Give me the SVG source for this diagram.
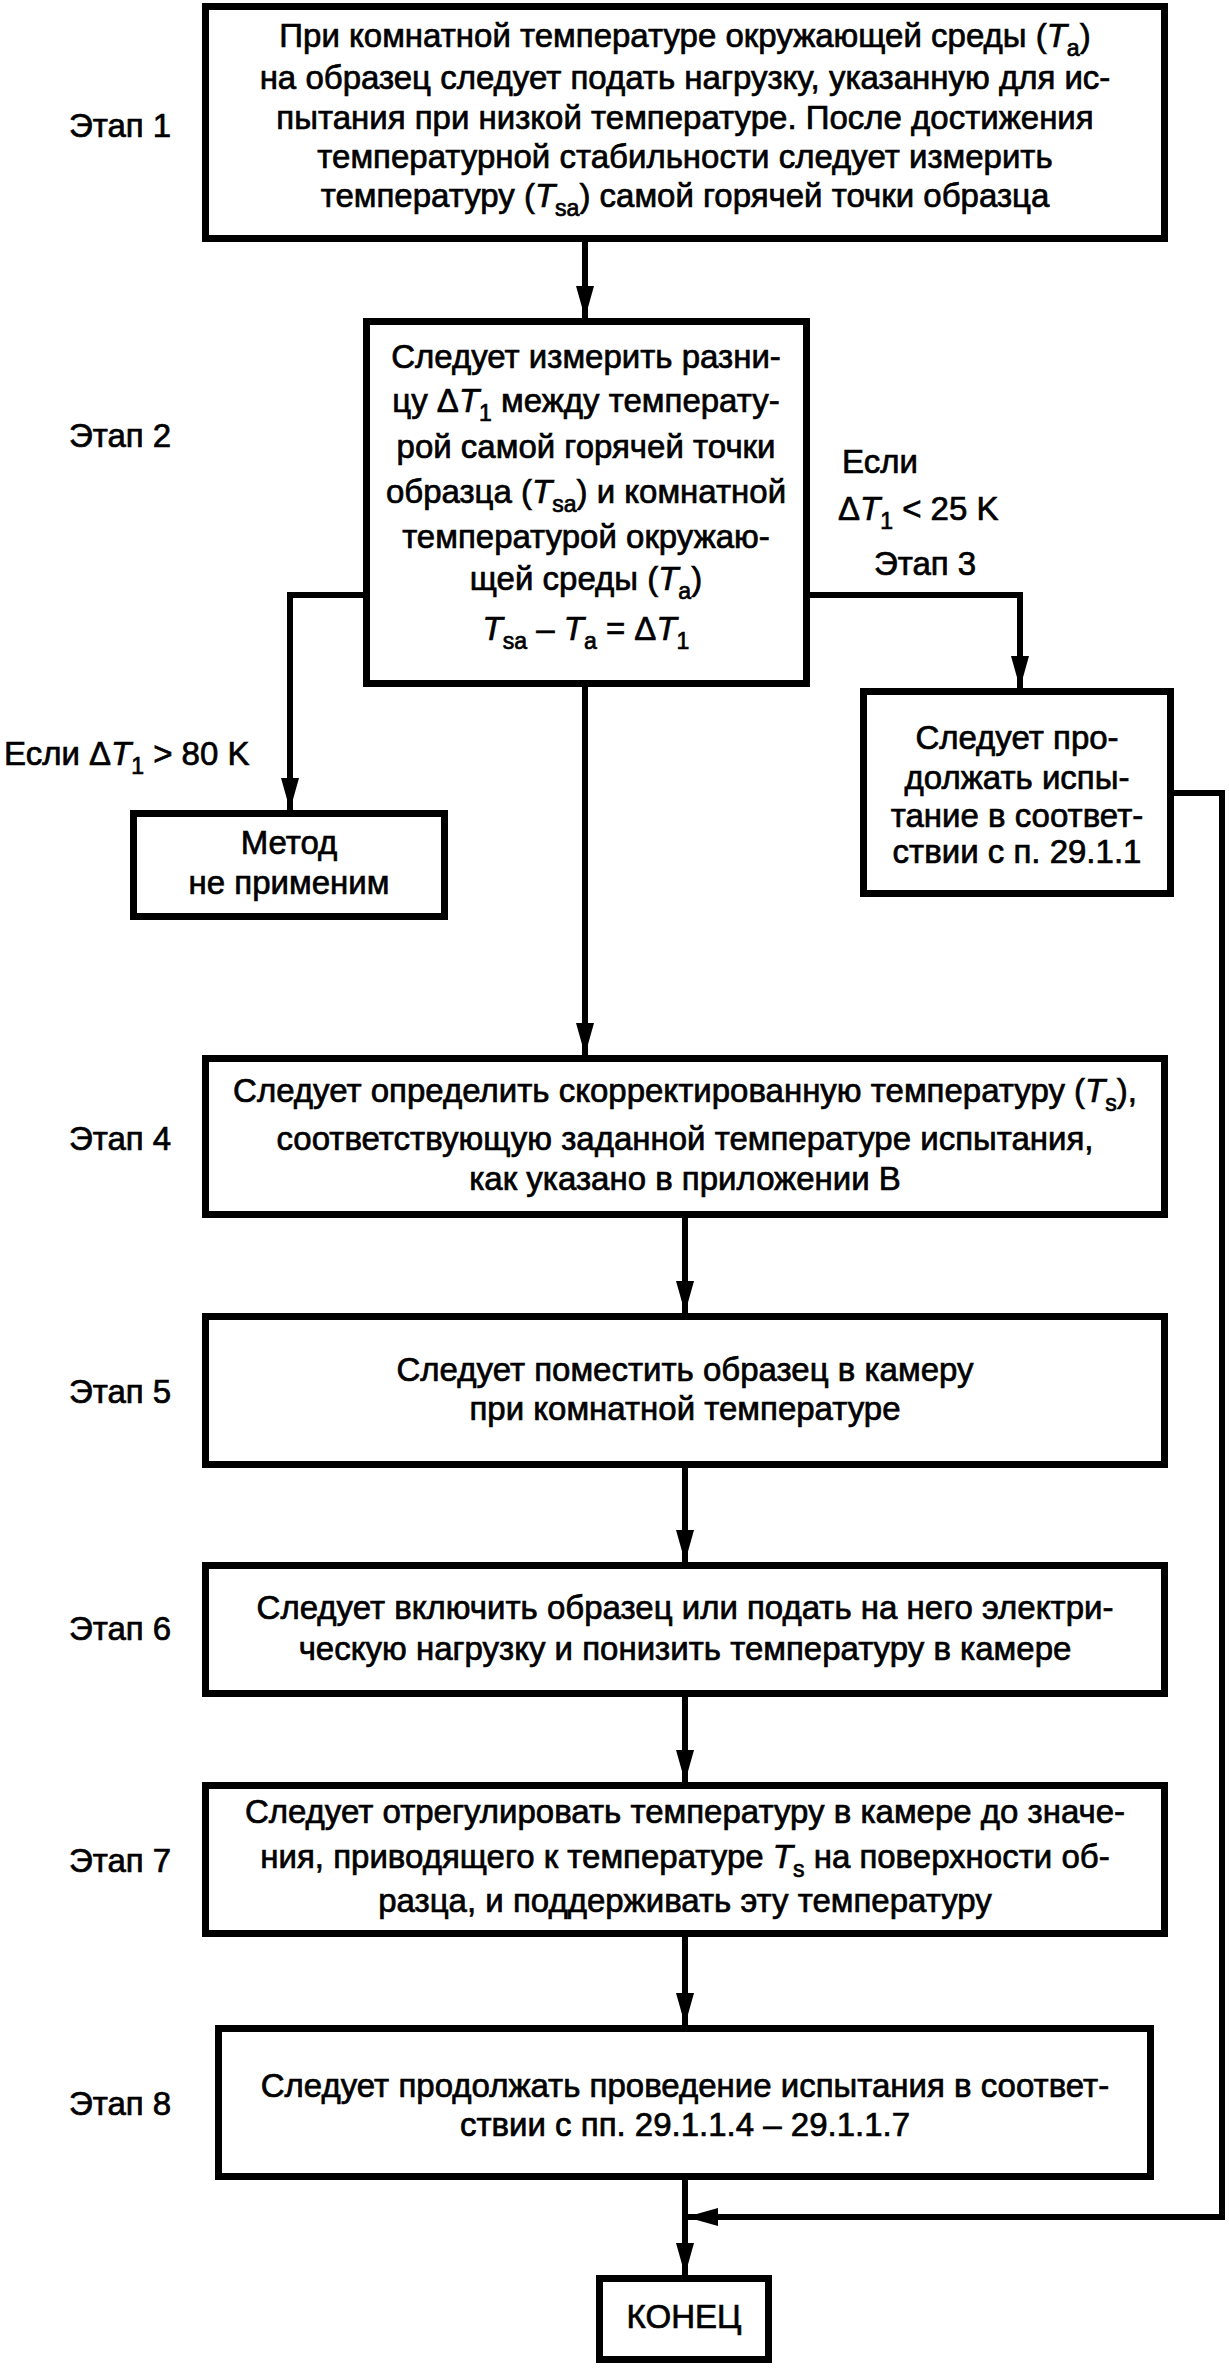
<svg xmlns="http://www.w3.org/2000/svg" width="1229" height="2369" viewBox="0 0 1229 2369">
<defs>
<style>
.box{fill:#fff;stroke:#000;stroke-width:7}
.ln{fill:none;stroke:#000;stroke-width:6;stroke-linejoin:miter}
text{font-family:"Liberation Sans",Arial,sans-serif;font-size:33px;fill:#000;stroke:#000;stroke-width:0.7px}
.c{text-anchor:middle}
.i{font-style:italic}
.s{font-size:23px;baseline-shift:-9px}
</style>
<marker id="ah" markerUnits="userSpaceOnUse" markerWidth="32" markerHeight="18" refX="32" refY="9" orient="auto">
<path d="M0,0 L32,9 L0,18 Z" fill="#000"/>
</marker>
</defs>
<rect width="1229" height="2369" fill="#fff"/>

<g id="connectors">
<path class="ln" d="M585,242 V318" marker-end="url(#ah)"/>
<path class="ln" d="M363,595 H290 V810" marker-end="url(#ah)"/>
<path class="ln" d="M810,595 H1020 V688" marker-end="url(#ah)"/>
<path class="ln" d="M585,687 V1055" marker-end="url(#ah)"/>
<path class="ln" d="M685,1218 V1313" marker-end="url(#ah)"/>
<path class="ln" d="M685,1468 V1562" marker-end="url(#ah)"/>
<path class="ln" d="M685,1697 V1782" marker-end="url(#ah)"/>
<path class="ln" d="M685,1937 V2025" marker-end="url(#ah)"/>
<path class="ln" d="M685,2180 V2275" marker-end="url(#ah)"/>
<path class="ln" d="M1174,793 H1222 V2217 H686" marker-end="url(#ah)"/>
</g>

<g id="labels">
<text x="69" y="137">Этап 1</text>
<text x="69" y="447">Этап 2</text>
<text x="874" y="575">Этап 3</text>
<text x="69" y="1150">Этап 4</text>
<text x="69" y="1403">Этап 5</text>
<text x="69" y="1640">Этап 6</text>
<text x="69" y="1872">Этап 7</text>
<text x="69" y="2115">Этап 8</text>
<text x="842" y="473">Если</text>
<text x="838" y="520">Δ<tspan class="i">T</tspan><tspan class="s">1</tspan> &lt; 25 K</text>
<text x="4" y="765">Если Δ<tspan class="i">T</tspan><tspan class="s">1</tspan> &gt; 80 K</text>
</g>

<g id="step1">
<rect class="box" x="205.5" y="6.5" width="959" height="232"/>
<text class="c" x="685" y="47">При комнатной температуре окружающей среды (<tspan class="i">T</tspan><tspan class="s">a</tspan>)</text>
<text class="c" x="685" y="89">на образец следует подать нагрузку, указанную для ис-</text>
<text class="c" x="685" y="129">пытания при низкой температуре. После достижения</text>
<text class="c" x="685" y="168">температурной стабильности следует измерить</text>
<text class="c" x="685" y="207">температуру (<tspan class="i">T</tspan><tspan class="s">sa</tspan>) самой горячей точки образца</text>
</g>

<g id="step2">
<rect class="box" x="366.5" y="321.5" width="440" height="362"/>
<text class="c" x="586" y="368">Следует измерить разни-</text>
<text class="c" x="586" y="412">цу Δ<tspan class="i">T</tspan><tspan class="s">1</tspan> между температу-</text>
<text class="c" x="586" y="458">рой самой горячей точки</text>
<text class="c" x="586" y="503">образца (<tspan class="i">T</tspan><tspan class="s">sa</tspan>) и комнатной</text>
<text class="c" x="586" y="548">температурой окружаю-</text>
<text class="c" x="586" y="590">щей среды (<tspan class="i">T</tspan><tspan class="s">a</tspan>)</text>
<text class="c" x="586" y="640"><tspan class="i">T</tspan><tspan class="s">sa</tspan> – <tspan class="i">T</tspan><tspan class="s">a</tspan> = Δ<tspan class="i">T</tspan><tspan class="s">1</tspan></text>
</g>

<g id="not-applicable">
<rect class="box" x="133.5" y="813.5" width="311" height="103"/>
<text class="c" x="289" y="854">Метод</text>
<text class="c" x="289" y="894">не применим</text>
</g>

<g id="step3">
<rect class="box" x="863.5" y="691.5" width="307" height="202"/>
<text class="c" x="1017" y="749">Следует про-</text>
<text class="c" x="1017" y="789">должать испы-</text>
<text class="c" x="1017" y="827">тание в соответ-</text>
<text class="c" x="1017" y="863">ствии с п. 29.1.1</text>
</g>

<g id="step4">
<rect class="box" x="205.5" y="1058.5" width="959" height="156"/>
<text class="c" x="685" y="1102">Следует определить скорректированную температуру (<tspan class="i">T</tspan><tspan class="s">s</tspan>),</text>
<text class="c" x="685" y="1150">соответствующую заданной температуре испытания,</text>
<text class="c" x="685" y="1190">как указано в приложении В</text>
</g>

<g id="step5">
<rect class="box" x="205.5" y="1316.5" width="959" height="148"/>
<text class="c" x="685" y="1381">Следует поместить образец в камеру</text>
<text class="c" x="685" y="1420">при комнатной температуре</text>
</g>

<g id="step6">
<rect class="box" x="205.5" y="1565.5" width="959" height="128"/>
<text class="c" x="685" y="1619">Следует включить образец или подать на него электри-</text>
<text class="c" x="685" y="1660">ческую нагрузку и понизить температуру в камере</text>
</g>

<g id="step7">
<rect class="box" x="205.5" y="1785.5" width="959" height="148"/>
<text class="c" x="685" y="1823">Следует отрегулировать температуру в камере до значе-</text>
<text class="c" x="685" y="1868">ния, приводящего к температуре <tspan class="i">T</tspan><tspan class="s">s</tspan> на поверхности об-</text>
<text class="c" x="685" y="1912">разца, и поддерживать эту температуру</text>
</g>

<g id="step8">
<rect class="box" x="218.5" y="2028.5" width="932" height="148"/>
<text class="c" x="685" y="2097">Следует продолжать проведение испытания в соответ-</text>
<text class="c" x="685" y="2136">ствии с пп. 29.1.1.4 – 29.1.1.7</text>
</g>

<g id="end">
<rect class="box" x="599.5" y="2278.5" width="169" height="81"/>
<text class="c" x="684" y="2328">КОНЕЦ</text>
</g>
</svg>
